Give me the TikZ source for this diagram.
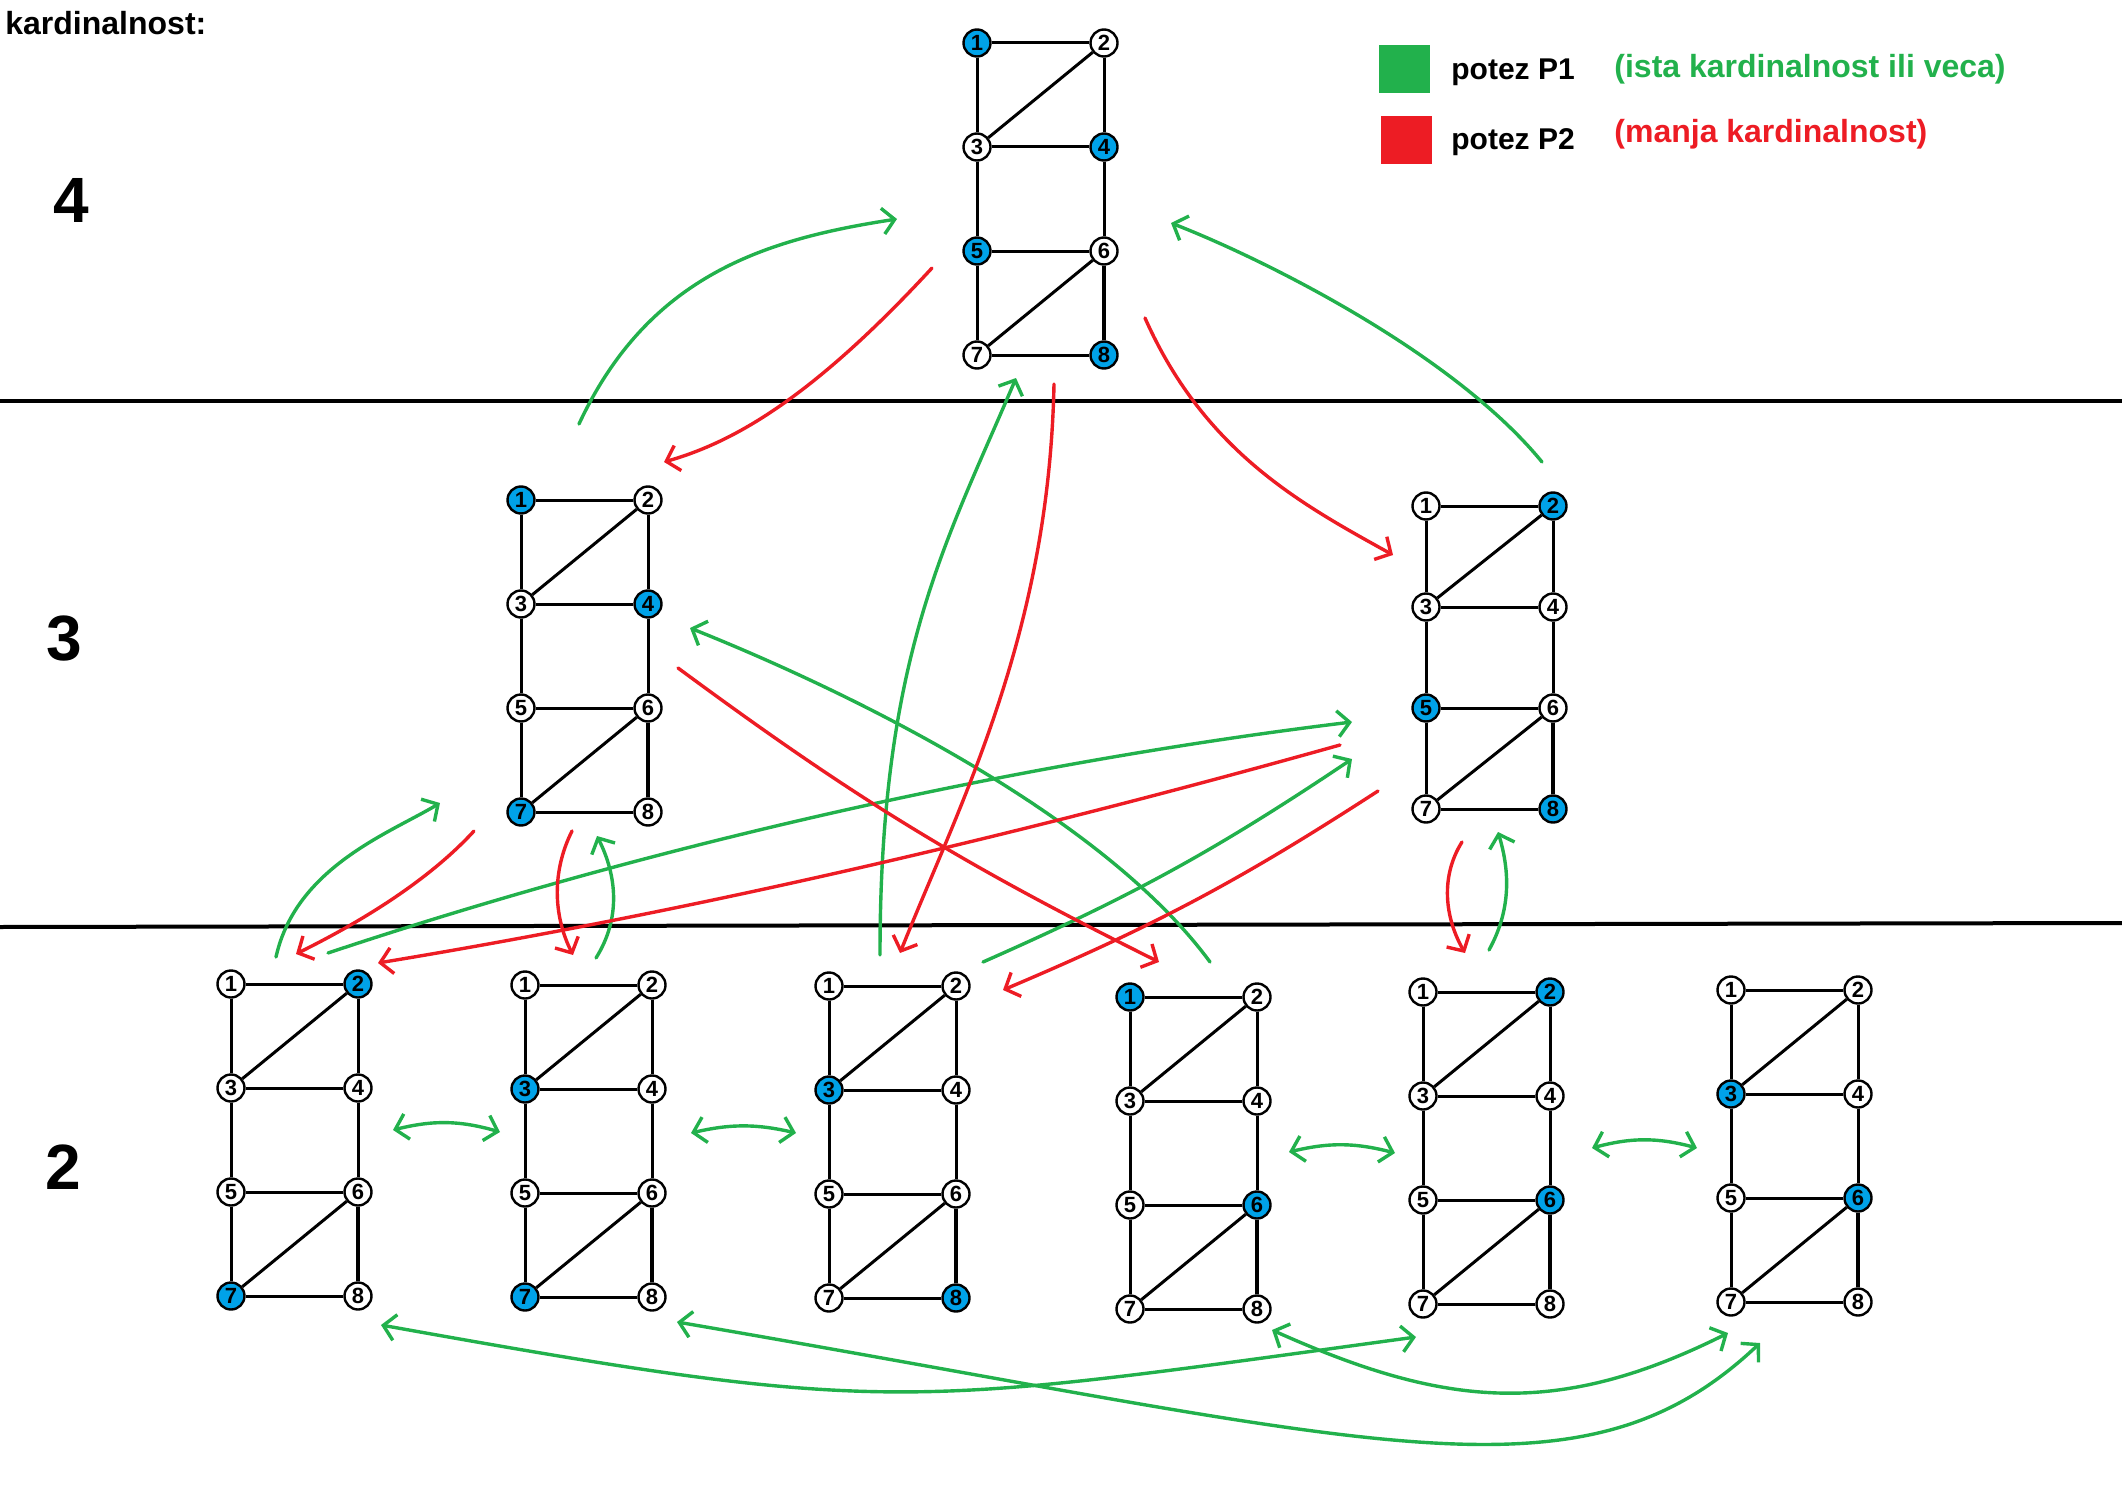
\documentclass[tikz,border=0pt]{standalone}
\usepackage{fontspec}
\setmainfont{Liberation Sans}
\usepackage{xcolor}
\usetikzlibrary{arrows.meta,calc}

\definecolor{plava}{RGB}{0,162,232}
\definecolor{zelena}{RGB}{34,177,76}
\definecolor{crvena}{RGB}{237,28,36}

\tikzset{
  cvor/.style={circle, draw, line width=1.2pt, minimum size=13.5pt, inner sep=0pt, fill=white,
    font=\fontsize{11}{11}\selectfont\bfseries},
  grana/.style={line width=1.5pt},
  linija/.style={line width=2pt},
  potez1/.style={draw=zelena, line width=1.7pt, line cap=round},
  potez2/.style={draw=crvena, line width=1.7pt, line cap=round},
  nivo/.style={font=\fontsize{32}{32}\selectfont\bfseries},
  kvadrat/.style={minimum width=25.5pt, minimum height=24pt, inner sep=0pt},
  tekst/.style={anchor=base west, inner sep=0pt},
}

% #1 ime, #2 x, #3 y, #4 razmak redova, #5 plavi cvorovi
\newcommand{\crtajgraf}[5]{%
  \foreach \n in {1,...,8}{\expandafter\xdef\csname boja\n\endcsname{white}}%
  \foreach \n in {#5}{\expandafter\xdef\csname boja\n\endcsname{plava}}%
  \foreach \n/\dx/\dy in {1/0/0,2/127/0,3/0/1,4/127/1,5/0/2,6/127/2,7/0/3,8/127/3}{%
    \edef\bojacvora{\csname boja\n\endcsname}%
    \node[cvor, fill=\bojacvora] (#1-\n) at (#2+\dx, #3+\dy*#4) {\n};}%
  \foreach \a/\b in {1/2,1/3,2/3,2/4,3/4,3/5,4/6,5/6,5/7,6/7,7/8}{\draw[grana] (#1-\a) -- (#1-\b);}%
  \draw[grana, line width=2.1pt] (#1-6) -- (#1-8);%
}

\begin{document}
\begin{tikzpicture}[x=0.5pt, y=-0.5pt, >={Straight Barb[length=6pt,width=13pt]}]
\useasboundingbox (0,0) rectangle (2122,1504);

\draw[linija] (0,401) -- (2122,401);
\draw[linija] (0,927) -- (2122,923);

\node[tekst, font=\fontsize{16}{16}\selectfont\bfseries] (naslov) at (5,35) {kardinalnost:};
\node[nivo] (nivo4) at (71,200) {4};
\node[nivo] (nivo3) at (64,639) {3};
\node[nivo] (nivo2) at (63,1167) {2};

% legenda
\node[kvadrat, fill=zelena] (kzelena) at (1404,69) {};
\node[kvadrat, fill=crvena] (kcrvena) at (1406,140) {};
\node[tekst, font=\fontsize{15}{15}\selectfont\bfseries] (leg1) at (1451,80) {potez P1};
\node[tekst, font=\fontsize{15}{15}\selectfont\bfseries] (leg2) at (1451,149) {potez P2};
\node[tekst, text=zelena, font=\fontsize{16}{16}\selectfont\bfseries] (opis1) at (1614,78) {(ista kardinalnost ili veca)};
\node[tekst, text=crvena, font=\fontsize{16}{16}\selectfont\bfseries] (opis2) at (1614,143) {(manja kardinalnost)};

% grafovi
\crtajgraf{g4}{977}{43}{104}{1,4,5,8}
\crtajgraf{g3a}{521}{500}{104}{1,4,7}
\crtajgraf{g3b}{1426}{506}{101}{2,5,8}
\crtajgraf{g2a}{231}{984}{104}{2,7}
\crtajgraf{g2b}{525}{985}{104}{3,7}
\crtajgraf{g2c}{829}{986}{104}{3,8}
\crtajgraf{g2d}{1130}{997}{104}{1,6}
\crtajgraf{g2e}{1423}{992}{104}{2,6}
\crtajgraf{g2f}{1731}{990}{104}{3,6}

% krajevi poteza
\foreach \ime/\x/\y in {g1s/579/424, g1e/897/219, g2s/1542/462, g2e/1171/223,
  g3s/880/955, g3e/1016/378, g4s/1210/962, g4e/690/628, g5s/276/957, g5e/440/803,
  g6s/596/958, g6e/597/836, g7s/328/953, g7e/1352/722, g8s/983/962, g8e/1352/759,
  g9s/1489/950, g9e/1498/832,
  r1s/932/268, r1e/664/462, r2s/1145/318, r2e/1393/555, r3s/1054/384, r3e/900/953,
  r4s/678/668, r4e/1159/962, r5s/474/831, r5e/296/954, r6s/572/831, r6e/573/955,
  r7s/1340/745, r7e/378/963, r8s/1378/791, r8e/1003/990, r9s/1462/842, r9e/1465/953,
  h1a/393/1130, h1b/500/1132, h2a/691/1133, h2b/796/1133,
  h3a/1289/1152, h3b/1395/1153, h4a/1592/1148, h4b/1697/1148,
  d1a/381/1325, d1b/1416/1337, d2a/677/1322, d2b/1760/1343, d3a/1272/1330, d3b/1728/1333}
  \coordinate (\ime) at (\x,\y);

% potez P1
\draw[potez1, ->] (g1s) .. controls +(70,-150) and +(-130,20) .. (g1e);
\draw[potez1, ->] (g2s) .. controls +(-90,-110) and +(90,35) .. (g2e);
\draw[potez1, ->] (g3s) .. controls +(0,-300) and +(-69,163) .. (g3e);
\draw[potez1, ->] (g4s) .. controls +(-110,-150) and +(150,60) .. (g4e);
\draw[potez1, ->] (g5s) .. controls +(20,-90) and +(-50,30) .. (g5e);
\draw[potez1, ->] (g6s) .. controls +(25,-40) and +(20,40) .. (g6e);
\draw[potez1, ->] (g7s) .. controls +(330,-110) and +(-330,40) .. (g7e);
\draw[potez1, ->] (g8s) to[bend right=5] (g8e);
\draw[potez1, ->] (g9s) .. controls +(22,-40) and +(12,40) .. (g9e);
\draw[potez1, <->] (h1a) to[bend left=15] (h1b);
\draw[potez1, <->] (h2a) to[bend left=13] (h2b);
\draw[potez1, <->] (h3a) to[bend left=14] (h3b);
\draw[potez1, <->] (h4a) to[bend left=15] (h4b);
\draw[potez1, <->] (d1a) .. controls +(513,92) and +(-513,70) .. (d1b);
\draw[potez1, <->] (d2a) .. controls +(700,120) and +(-180,170) .. (d2b);
\draw[potez1, <->] (d3a) .. controls +(172,77) and +(-172,86) .. (d3b);

% potez P2
\draw[potez2, ->] (r1s) .. controls +(-120,130) and +(70,-20) .. (r1e);
\draw[potez2, ->] (r2s) .. controls +(60,135) and +(-90,-50) .. (r2e);
\draw[potez2, ->] (r3s) .. controls +(-5,250) and +(60,-150) .. (r3e);
\draw[potez2, ->] (r4s) to[bend right=5] (r4e);
\draw[potez2, ->] (r5s) .. controls +(-55,60) and +(40,-20) .. (r5e);
\draw[potez2, ->] (r6s) .. controls +(-20,40) and +(-20,-40) .. (r6e);
\draw[potez2, ->] (r7s) .. controls +(-321,90) and +(321,-53) .. (r7e);
\draw[potez2, ->] (r8s) to[bend left=5] (r8e);
\draw[potez2, ->] (r9s) .. controls +(-22,35) and +(-20,-35) .. (r9e);
\end{tikzpicture}
\end{document}
